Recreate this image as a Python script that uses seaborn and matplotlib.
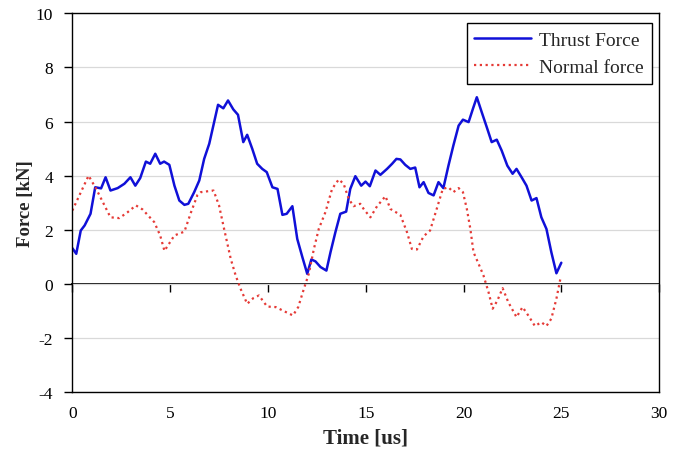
import matplotlib
matplotlib.use("Agg")
import matplotlib.pyplot as plt
import seaborn as sns
import pandas as pd

# Thrust force trace
thrust_time = [0, 0.2, 0.43, 0.63, 0.93, 1.17, 1.47, 1.7, 1.95, 2.32, 2.66, 2.97,
               3.22, 3.47, 3.76, 3.98, 4.24, 4.49, 4.69, 4.96, 5.22, 5.47, 5.73,
               5.93, 6.23, 6.49, 6.74, 7.0, 7.25, 7.45, 7.72, 7.96, 8.23, 8.47,
               8.74, 8.94, 9.2, 9.45, 9.71, 9.94, 10.23, 10.49, 10.74, 10.96,
               11.25, 11.5, 11.76, 12.01, 12.22, 12.43, 12.69, 12.99, 13.2, 13.45,
               13.7, 14.0, 14.21, 14.47, 14.77, 14.99, 15.21, 15.5, 15.75, 16.09,
               16.35, 16.57, 16.77, 17.02, 17.28, 17.53, 17.75, 17.96, 18.21,
               18.47, 18.72, 18.97, 19.23, 19.48, 19.75, 19.97, 20.26, 20.48,
               20.68, 20.93, 21.19, 21.44, 21.7, 21.95, 22.24, 22.51, 22.71,
               22.97, 23.22, 23.48, 23.73, 23.98, 24.24, 24.49, 24.75, 25.0]
thrust_force = [1.32, 1.11, 1.97, 2.16, 2.59, 3.57, 3.53, 3.94, 3.45, 3.54, 3.70,
                3.94, 3.63, 3.91, 4.52, 4.44, 4.81, 4.44, 4.52, 4.40, 3.63, 3.08,
                2.92, 2.96, 3.39, 3.82, 4.62, 5.18, 5.98, 6.62, 6.49, 6.78, 6.45,
                6.25, 5.24, 5.51, 4.99, 4.44, 4.25, 4.13, 3.57, 3.51, 2.55, 2.59,
                2.87, 1.66, 0.99, 0.37, 0.90, 0.83, 0.62, 0.49, 1.17, 1.91, 2.59,
                2.67, 3.51, 3.98, 3.63, 3.78, 3.61, 4.19, 4.03, 4.25, 4.44, 4.62,
                4.60, 4.40, 4.25, 4.30, 3.57, 3.76, 3.36, 3.27, 3.76, 3.54, 4.37,
                5.11, 5.85, 6.07, 5.98, 6.47, 6.90, 6.35, 5.79, 5.24, 5.33, 4.93,
                4.37, 4.07, 4.25, 3.94, 3.63, 3.08, 3.17, 2.46, 2.03, 1.17, 0.39,
                0.78]

# Normal force trace
normal_time = [0, 0.83, 1.22, 1.95, 2.4, 2.83, 3.25, 3.59, 4.19, 4.49, 4.71, 5.22,
               5.73, 6.07, 6.4, 6.57, 7.22, 7.5, 7.76, 8.1, 8.35, 8.6, 8.94, 9.25,
               9.54, 9.96, 10.4, 10.85, 11.28, 11.55, 11.84, 12.09, 12.35, 12.6,
               12.94, 13.28, 13.62, 13.87, 14.13, 14.38, 14.72, 14.91, 15.24,
               15.58, 16.01, 16.26, 16.77, 17.11, 17.36, 17.62, 17.96, 18.29,
               18.63, 18.94, 19.23, 19.48, 19.75, 19.97, 20.17, 20.35, 20.51,
               20.77, 21.02, 21.28, 21.49, 21.73, 22.0, 22.29, 22.71, 23.02,
               23.31, 23.65, 23.98, 24.24, 24.49, 24.75, 24.95]
normal_force = [2.71, 4.0, 3.51, 2.46, 2.43, 2.65, 2.90, 2.75, 2.28, 1.79, 1.22,
                1.79, 1.93, 2.65, 3.29, 3.39, 3.45, 2.90, 2.03, 0.92, 0.31, -0.18,
                -0.74, -0.53, -0.43, -0.84, -0.86, -1.02, -1.17, -0.86, -0.18,
                0.37, 1.29, 2.03, 2.65, 3.51, 3.86, 3.70, 3.14, 2.87, 2.96, 2.75,
                2.46, 2.87, 3.24, 2.77, 2.55, 1.91, 1.29, 1.27, 1.76, 1.97, 2.77,
                3.51, 3.57, 3.39, 3.54, 3.39, 2.77, 2.03, 1.17, 0.74, 0.31, -0.31,
                -0.92, -0.62, -0.16, -0.68, -1.23, -0.86, -1.17, -1.56, -1.42,
                -1.56, -1.29, -0.55, 0.18]

x_ticks = [0, 5, 10, 15, 20, 25, 30]
y_ticks = [-4, -2, 0, 2, 4, 6, 8, 10]

thrust_df = pd.DataFrame({"Time": thrust_time, "Force": thrust_force})
normal_df = pd.DataFrame({"Time": normal_time, "Force": normal_force})

sns.set_theme(style="white")
plt.rcParams["font.family"] = ["Liberation Serif", "DejaVu Serif"]

fig = plt.figure(figsize=(6.76, 4.64), dpi=100)
ax = fig.add_axes([0.107, 0.153, 0.868, 0.816])

sns.lineplot(data=thrust_df, x="Time", y="Force", ax=ax, sort=False,
             estimator=None, color="#1010d8", linewidth=1.8,
             label="Thrust Force")
sns.lineplot(data=normal_df, x="Time", y="Force", ax=ax, sort=False,
             estimator=None, color="#e53a36", linewidth=1.6,
             linestyle=(0, (1, 1.6)), label="Normal force")

ax.set_xlim(0, 30)
ax.set_ylim(-4, 10)
ax.set_xticks(x_ticks)
ax.set_yticks(y_ticks)
ax.set_xticklabels([str(v) for v in x_ticks], fontsize=12.5)
ax.set_yticklabels([str(v) for v in y_ticks], fontsize=12.5)

# horizontal gridlines only
ax.yaxis.grid(True, color="#d9d9d9", linewidth=0.9)
ax.xaxis.grid(False)
ax.set_axisbelow(True)

for side in ["left", "right", "top", "bottom"]:
    ax.spines[side].set_visible(True)
    ax.spines[side].set_color("black")
    ax.spines[side].set_linewidth(1.0)

ax.tick_params(axis="x", length=0, pad=9, colors="black")
ax.tick_params(axis="y", direction="out", length=6, width=1.0, pad=8,
               colors="black", left=True, right=False)

# category axis crossing at zero with downward tick marks
zero_axis = ax.secondary_xaxis(4 / 14)
zero_axis.set_xticks(x_ticks)
zero_axis.tick_params(axis="x", direction="out", length=6, width=1.0,
                      labelbottom=False, colors="black")
zero_axis.spines["bottom"].set_color("black")
zero_axis.spines["bottom"].set_linewidth(1.3)

ax.set_xlabel("Time [us]", fontsize=15, fontweight="bold", labelpad=5)
ax.set_ylabel("Force [kN]", fontsize=13.5, fontweight="bold", labelpad=1)

leg = ax.legend(loc="upper right", bbox_to_anchor=(0.9876, 0.974),
                borderaxespad=0, fontsize=14, frameon=True, fancybox=False,
                handlelength=2.9, labelspacing=0.5, borderpad=0.4,
                handletextpad=0.45)
leg.get_frame().set_edgecolor("black")
leg.get_frame().set_linewidth(1.0)
leg.get_frame().set_alpha(1.0)

fig.savefig("out.png", dpi=100, facecolor="white")
